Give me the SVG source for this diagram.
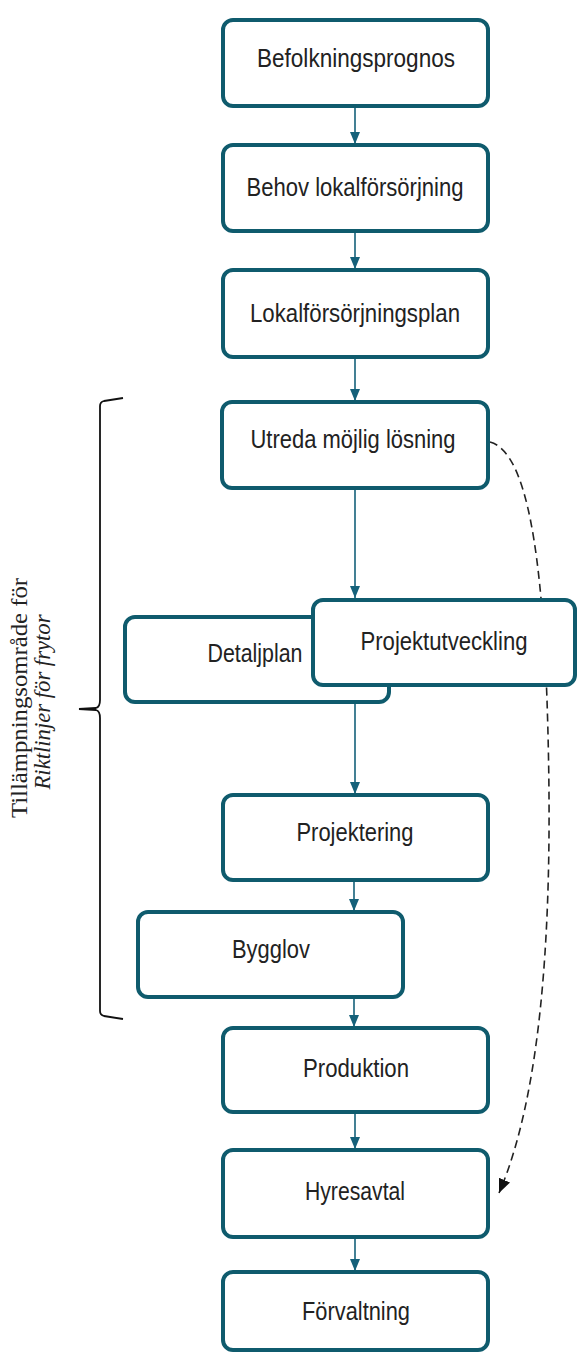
<svg xmlns="http://www.w3.org/2000/svg" width="577" height="1354" viewBox="0 0 577 1354">
<style>
.box{fill:#fff;stroke:#0f5b6d;stroke-width:4}
.lbl{font-family:"Liberation Sans",Arial,sans-serif;font-size:25px;fill:#222;text-anchor:middle}
.flow{stroke:#15617a;stroke-width:1.6;fill:none}
.dash{stroke:#222;stroke-width:1.6;fill:none;stroke-dasharray:8 5}
.side{font-family:"Liberation Serif","Times New Roman",serif;font-size:24px;fill:#222;text-anchor:middle}
</style>
<defs>
<marker id="ah" viewBox="0 0 12 10" refX="12" refY="5" markerWidth="12" markerHeight="10" markerUnits="userSpaceOnUse" orient="auto">
<path d="M0,0 L12,5 L0,10 z" fill="#15617a"/>
</marker>
<marker id="ahb" viewBox="0 0 14 12" refX="14" refY="6" markerWidth="14" markerHeight="12" markerUnits="userSpaceOnUse" orient="auto">
<path d="M0,0 L14,6 L0,12 z" fill="#111"/>
</marker>
</defs>
<rect width="577" height="1354" fill="#fff"/>
<g id="connectors">
<path class="dash" d="M490,442 C528,452 542,560 547,700 C552,850 552,1070 499,1193" marker-end="url(#ahb)"/>
<line class="flow" x1="355" y1="107" x2="355" y2="144" marker-end="url(#ah)"/>
<line class="flow" x1="355" y1="232" x2="355" y2="269" marker-end="url(#ah)"/>
<line class="flow" x1="355" y1="358" x2="355" y2="401" marker-end="url(#ah)"/>
<line class="flow" x1="355" y1="489" x2="355" y2="598" marker-end="url(#ah)"/>
<line class="flow" x1="355" y1="686" x2="355" y2="794" marker-end="url(#ah)"/>
<line class="flow" x1="354" y1="881" x2="354" y2="911" marker-end="url(#ah)"/>
<line class="flow" x1="354" y1="998" x2="354" y2="1027" marker-end="url(#ah)"/>
<line class="flow" x1="355" y1="1113" x2="355" y2="1149" marker-end="url(#ah)"/>
<line class="flow" x1="355" y1="1238" x2="355" y2="1271" marker-end="url(#ah)"/>
</g>
<g id="n1"><rect class="box" x="223" y="20" width="265" height="86" rx="10"/><text class="lbl" x="356" y="67" textLength="198" lengthAdjust="spacingAndGlyphs">Befolkningsprognos</text></g>
<g id="n2"><rect class="box" x="223" y="145" width="265" height="86" rx="10"/><text class="lbl" x="355" y="196" textLength="217" lengthAdjust="spacingAndGlyphs">Behov lokalförsörjning</text></g>
<g id="n3"><rect class="box" x="223" y="270" width="265" height="87" rx="10"/><text class="lbl" x="355" y="322" textLength="210" lengthAdjust="spacingAndGlyphs">Lokalförsörjningsplan</text></g>
<g id="n4"><rect class="box" x="222" y="402" width="266" height="86" rx="10"/><text class="lbl" x="353" y="448" textLength="205" lengthAdjust="spacingAndGlyphs">Utreda möjlig  lösning</text></g>
<g id="n5"><rect class="box" x="125" y="617" width="264" height="85" rx="10"/><text class="lbl" x="255" y="662" textLength="95" lengthAdjust="spacingAndGlyphs">Detaljplan</text></g>
<g id="n6"><rect class="box" x="313" y="600" width="262" height="85" rx="10"/><text class="lbl" x="444" y="650" textLength="167" lengthAdjust="spacingAndGlyphs">Projektutveckling</text></g>
<g id="n7"><rect class="box" x="223" y="795" width="265" height="85" rx="10"/><text class="lbl" x="355" y="841" textLength="117" lengthAdjust="spacingAndGlyphs">Projektering</text></g>
<g id="n8"><rect class="box" x="138" y="912" width="265" height="85" rx="10"/><text class="lbl" x="271" y="958" textLength="78" lengthAdjust="spacingAndGlyphs">Bygglov</text></g>
<g id="n9"><rect class="box" x="223" y="1028" width="265" height="84" rx="10"/><text class="lbl" x="356" y="1077" textLength="106" lengthAdjust="spacingAndGlyphs">Produktion</text></g>
<g id="n10"><rect class="box" x="223" y="1150" width="265" height="87" rx="10"/><text class="lbl" x="355" y="1200" textLength="100" lengthAdjust="spacingAndGlyphs">Hyresavtal</text></g>
<g id="n11"><rect class="box" x="223" y="1272" width="265" height="78" rx="10"/><text class="lbl" x="356" y="1320" textLength="108" lengthAdjust="spacingAndGlyphs">Förvaltning</text></g>
<g id="brace">
<path d="M123,398 L104,401 Q100,402 100,406 L100,700 Q100,707 96,708 L79,709 L96,710 Q100,711 100,718 L100,1011 Q100,1015 104,1016 L123,1019" fill="none" stroke="#111" stroke-width="1.8"/>
<text class="side" transform="translate(27,698) rotate(-90)" textLength="240" lengthAdjust="spacingAndGlyphs">Tillämpningsområde för</text>
<text class="side" transform="translate(50,702) rotate(-90)" font-style="italic" textLength="175" lengthAdjust="spacingAndGlyphs">Riktlinjer för frytor</text>
</g>
</svg>
